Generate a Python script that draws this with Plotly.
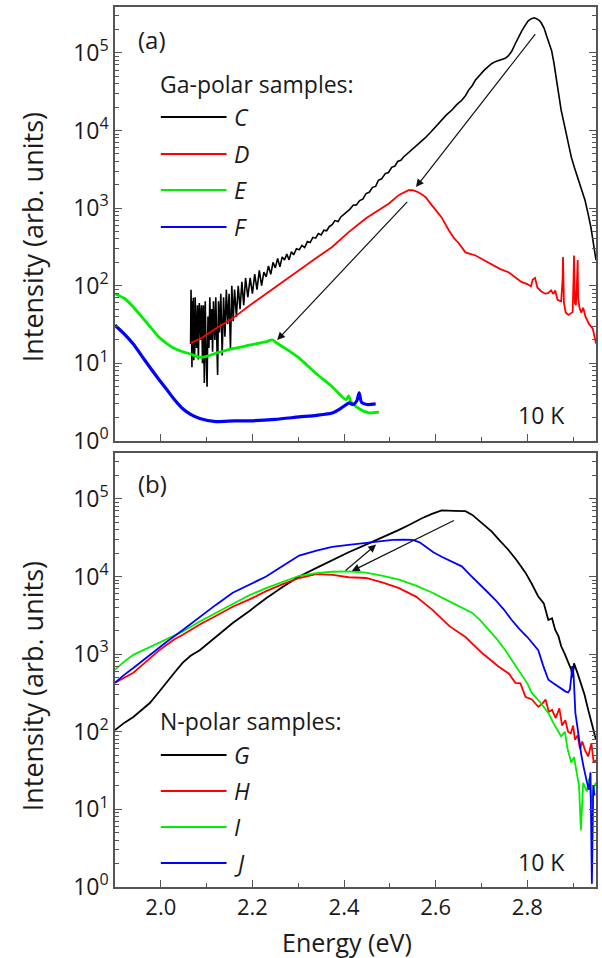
import plotly.graph_objects as go

# ---------------- data ----------------
# Panel (a): Ga-polar samples
C_x = [2.065, 2.066, 2.067, 2.068, 2.069, 2.070, 2.071, 2.072, 2.073, 2.074, 2.075, 2.077, 2.078, 2.080,
       2.082, 2.084, 2.085, 2.087, 2.089, 2.091, 2.093, 2.095, 2.097, 2.099, 2.101, 2.103, 2.105, 2.107,
       2.109, 2.111, 2.113, 2.115, 2.118, 2.120, 2.122, 2.124, 2.126, 2.128, 2.131, 2.134, 2.137, 2.140,
       2.143, 2.146, 2.149, 2.152, 2.155, 2.158, 2.161, 2.165, 2.169, 2.173, 2.177, 2.181, 2.185, 2.190,
       2.195, 2.200, 2.205, 2.210, 2.215, 2.220, 2.225, 2.230, 2.235, 2.240, 2.245, 2.250, 2.255, 2.260,
       2.265, 2.270, 2.275, 2.280, 2.285, 2.290, 2.296, 2.302, 2.308, 2.314, 2.320, 2.326, 2.332, 2.338,
       2.344, 2.350, 2.356, 2.362, 2.368, 2.374, 2.380, 2.387, 2.393, 2.400, 2.406, 2.413, 2.420, 2.427,
       2.434, 2.441, 2.448, 2.455, 2.462, 2.469, 2.475, 2.482, 2.490, 2.497, 2.504, 2.511, 2.517, 2.524,
       2.530, 2.538, 2.546, 2.555, 2.563, 2.577, 2.590, 2.602, 2.613, 2.624, 2.635, 2.646, 2.657, 2.665,
       2.672, 2.680, 2.687, 2.696, 2.705, 2.714, 2.722, 2.730, 2.737, 2.745, 2.752, 2.759, 2.766, 2.773,
       2.780, 2.788, 2.795, 2.802, 2.809, 2.815, 2.820, 2.826, 2.831, 2.837, 2.842, 2.848, 2.853, 2.858,
       2.864, 2.869, 2.874, 2.880, 2.885, 2.890, 2.896, 2.903, 2.910, 2.918, 2.926, 2.933, 2.939, 2.945,
       2.950]
C_y = [17.8, 89, 30, 8.9, 63, 20, 70, 11, 45, 12.6, 71, 25, 15.8, 56,
       11.2, 60, 50, 20, 56, 10, 56, 5.6, 63, 12.6, 5.0, 40, 15.8, 71,
       20, 50, 14.1, 63, 20, 71, 15.8, 7.1, 63, 25, 79, 12.6, 71, 22,
       89, 32, 79, 15.8, 100, 35, 89, 40, 100, 50, 112, 56, 126, 71,
       126, 79, 141, 89, 158, 100, 150, 130, 180, 140, 200, 170, 225, 175,
       235, 215, 255, 215, 275, 250, 300, 290, 330, 310, 370, 360, 420, 410,
       470, 450, 520, 510, 580, 610, 690, 670, 770, 830, 910, 970, 1090, 1100,
       1250, 1300, 1540, 1600, 1850, 1900, 2280, 2380, 2780, 2870, 3350, 3480, 3980, 4120,
       4550, 5000, 5600, 6200, 6700, 8000, 9600, 11500, 13400, 16000, 18200, 21500, 24500, 28000,
       33100, 38000, 44700, 52000, 58900, 66000, 72400, 77000, 79400, 82000, 85100, 92000, 104700, 128000,
       158500, 192000, 223900, 258000, 275400, 282000, 275400, 262000, 239900, 205000, 166000, 135000, 107200, 75000,
       44700, 27000, 18200, 12500, 8900, 6500, 4570, 3300, 2510, 1800, 1260, 830, 562, 330,
       214]

D_x = [2.065, 2.090, 2.120, 2.157, 2.190, 2.230, 2.265, 2.302, 2.340, 2.374, 2.410, 2.448, 2.475, 2.498,
       2.520, 2.533, 2.541, 2.550, 2.560, 2.570, 2.578, 2.591, 2.602, 2.613, 2.628, 2.640, 2.650, 2.665,
       2.687, 2.705, 2.722, 2.740, 2.760, 2.775, 2.787, 2.800, 2.808, 2.812, 2.817, 2.822, 2.830, 2.839,
       2.845, 2.852, 2.857, 2.861, 2.866, 2.874, 2.877, 2.878, 2.880, 2.884, 2.890, 2.895, 2.899, 2.901,
       2.902, 2.904, 2.906, 2.908, 2.910, 2.911, 2.914, 2.918, 2.922, 2.927, 2.935, 2.943, 2.950]
D_y = [18.2, 21.4, 28.2, 38, 53.7, 79.4, 112, 158, 229, 316, 490, 741, 933, 1148,
       1479, 1620, 1698, 1700, 1622, 1500, 1380, 1100, 900, 759, 525, 410, 355, 269,
       245, 215, 186, 165, 148, 128, 112, 105, 98, 120, 126, 95, 85, 79,
       80, 87, 78, 87, 66, 63, 120, 234, 60, 45, 42, 44, 46, 120,
       245, 60, 56, 90, 214, 70, 52, 45, 52, 40, 32, 28, 18]

E_x = [1.900, 1.920, 1.939, 1.958, 1.976, 1.995, 2.013, 2.030, 2.048, 2.065, 2.085, 2.100, 2.120, 2.157,
       2.190, 2.215, 2.230, 2.243, 2.255, 2.270, 2.302, 2.339, 2.374, 2.404, 2.410, 2.415, 2.433, 2.454,
       2.476]
E_y = [79, 69, 54, 40, 30, 22, 18, 15.5, 14.1, 13.2, 12, 12.3, 13.5, 15.5,
       17, 18.2, 19, 20, 18, 15.8, 11.7, 7.4, 5.0, 3.4, 3.8, 3.2, 2.6, 2.3,
       2.35]

F_x = [1.900, 1.920, 1.939, 1.958, 1.976, 1.995, 2.013, 2.030, 2.048, 2.065, 2.085, 2.120, 2.160, 2.193,
       2.250, 2.302, 2.340, 2.374, 2.393, 2.405, 2.411, 2.420, 2.428, 2.433, 2.438, 2.450, 2.469]
F_y = [31, 24, 18, 12.6, 8.9, 6.3, 4.6, 3.4, 2.6, 2.2, 1.95, 1.78, 1.82, 1.82,
       1.9, 2.04, 2.14, 2.29, 2.63, 2.95, 3.09, 2.95, 3.3, 4.17, 3.16, 2.95, 3.0]

# Panel (b): N-polar samples
G_x = [1.900, 1.920, 1.940, 1.958, 1.976, 1.995, 2.013, 2.030, 2.048, 2.065, 2.085, 2.120, 2.157, 2.195,
       2.230, 2.265, 2.302, 2.340, 2.374, 2.410, 2.448, 2.485, 2.520, 2.545, 2.570, 2.592, 2.613, 2.640,
       2.665, 2.680, 2.693, 2.708, 2.722, 2.740, 2.759, 2.778, 2.796, 2.810, 2.824, 2.836, 2.846, 2.854,
       2.861, 2.868, 2.874, 2.882, 2.890, 2.896, 2.899, 2.902, 2.910, 2.917, 2.925, 2.933, 2.941, 2.950]
G_y = [105, 130, 155, 190, 234, 320, 427, 580, 776, 950, 1122, 1660, 2512, 3650,
       5248, 7250, 10000, 12900, 16200, 20500, 25700, 32000, 39800, 47000, 56200, 64000, 70800, 70000,
       69200, 62000, 53700, 45500, 38000, 29000, 21900, 15800, 11200, 8000, 5500, 4500, 2750, 2900,
       2040, 1700, 1260, 1000, 776, 630, 500, 760, 560, 427, 300, 191, 130, 79]

H_x = [1.900, 1.920, 1.940, 1.958, 1.976, 1.995, 2.013, 2.030, 2.048, 2.085, 2.120, 2.157, 2.195, 2.230,
       2.265, 2.302, 2.339, 2.375, 2.410, 2.448, 2.485, 2.520, 2.557, 2.593, 2.630, 2.665, 2.702, 2.737,
       2.760, 2.774, 2.785, 2.796, 2.810, 2.824, 2.833, 2.840, 2.847, 2.854, 2.862, 2.870, 2.876, 2.883,
       2.889, 2.895, 2.900, 2.904, 2.910, 2.915, 2.920, 2.926, 2.933, 2.940, 2.945, 2.950]
H_y = [427, 500, 575, 710, 891, 1100, 1318, 1550, 1778, 2399, 3100, 4074, 5100, 6457,
       7900, 9550, 10700, 10500, 9770, 9550, 8300, 7080, 5500, 3715, 2290, 1660, 1023, 692,
       560, 427, 420, 282, 260, 209, 230, 260, 180, 191, 150, 200, 120, 141,
       100, 95, 120, 79, 90, 60, 75, 58, 48, 71, 40, 43]

I_x = [1.900, 1.920, 1.940, 1.958, 1.976, 1.995, 2.013, 2.048, 2.085, 2.120, 2.157, 2.195, 2.230, 2.265,
       2.302, 2.340, 2.374, 2.410, 2.448, 2.485, 2.520, 2.557, 2.593, 2.620, 2.644, 2.662, 2.680, 2.698,
       2.716, 2.734, 2.752, 2.770, 2.789, 2.800, 2.810, 2.828, 2.846, 2.860, 2.874, 2.882, 2.888, 2.893,
       2.896, 2.902, 2.908, 2.913, 2.917, 2.922, 2.930, 2.935, 2.940, 2.946, 2.950]
I_y = [631, 800, 977, 1100, 1230, 1380, 1549, 1950, 2630, 3400, 4467, 5800, 7080, 8500,
       10200, 11000, 11500, 11600, 11200, 10200, 9120, 7600, 6170, 5100, 4365, 3900, 3390, 2700,
       2040, 1550, 1122, 780, 513, 420, 316, 240, 174, 120, 87, 100, 60, 45,
       40, 47, 30, 20, 5.4, 22, 17, 25, 12, 20, 22]

J_x = [1.900, 1.920, 1.940, 1.958, 1.976, 1.995, 2.013, 2.048, 2.085, 2.120, 2.157, 2.195, 2.230, 2.265,
       2.302, 2.340, 2.374, 2.410, 2.448, 2.478, 2.506, 2.530, 2.550, 2.565, 2.578, 2.595, 2.614, 2.635,
       2.657, 2.675, 2.693, 2.712, 2.730, 2.748, 2.766, 2.783, 2.800, 2.812, 2.824, 2.835, 2.846, 2.857,
       2.868, 2.876, 2.883, 2.889, 2.893, 2.896, 2.898, 2.901, 2.905, 2.909, 2.913, 2.918, 2.923, 2.928,
       2.934, 2.938, 2.941, 2.944, 2.947]
J_y = [427, 540, 661, 800, 977, 1200, 1445, 2040, 3020, 4300, 6170, 7950, 10000, 13500,
       18600, 21500, 24000, 25500, 26900, 28000, 29500, 29800, 29500, 27500, 24000, 20500, 17800, 15500,
       13500, 10500, 8130, 6400, 5010, 3800, 2750, 2100, 1660, 1350, 1122, 700, 468, 420,
       380, 350, 331, 320, 347, 500, 700, 550, 174, 120, 79, 50, 35, 25,
       17.8, 30, 1.1, 20, 15]

y_tickvals = [1, 10, 100, 1000, 10000, 100000]
y_ticktext = ["10<sup>0</sup>", "10<sup>1</sup>", "10<sup>2</sup>", "10<sup>3</sup>",
              "10<sup>4</sup>", "10<sup>5</sup>"]
x_tickvals = [2.0, 2.2, 2.4, 2.6, 2.8]
x_ticktext = ["2.0", "2.2", "2.4", "2.6", "2.8"]
legend_a = ["C", "D", "E", "F"]
legend_b = ["G", "H", "I", "J"]

# ---------------- styling ----------------
FONT = "Open Sans"
TXT = "#1a1a1a"
colors = ["#000000", "#ff0000", "#00ee00", "#0000ff"]
FRAME = "#555555"

fig = go.Figure()
series_a = [(C_x, C_y, 1.6, "linear"), (D_x, D_y, 1.8, "linear"),
            (E_x, E_y, 2.8, "spline"), (F_x, F_y, 3.2, "spline")]
for (xs, ys, w, sh), col, nm in zip(series_a, colors, legend_a):
    fig.add_trace(go.Scatter(x=xs, y=ys, mode="lines", name=nm, showlegend=False,
                             line=dict(color=col, width=w, shape=sh, smoothing=0.6),
                             xaxis="x", yaxis="y"))
series_b = [G_x, G_y], [H_x, H_y], [I_x, I_y], [J_x, J_y]
for (xs, ys), col, nm in zip(series_b, colors, legend_b):
    fig.add_trace(go.Scatter(x=xs, y=ys, mode="lines", name=nm, showlegend=False,
                             line=dict(color=col, width=1.8), xaxis="x2", yaxis="y2"))

minor_vals = [k * 10 ** n for n in range(0, 6) for k in range(2, 10)]

def yaxis(domain, anchor):
    return dict(type="log", domain=domain, anchor=anchor, range=[0, 5.59],
                tickvals=y_tickvals, ticktext=y_ticktext, ticks="inside", ticklen=7,
                tickwidth=1.2, tickcolor=FRAME, showline=True, linecolor=FRAME, linewidth=1.5,
                mirror="ticks", showgrid=False, zeroline=False,
                tickfont=dict(family=FONT, size=23, color=TXT),
                minor=dict(tickvals=minor_vals, ticks="inside", ticklen=4, tickcolor=FRAME,
                           tickwidth=1, showgrid=False))

def xaxis(anchor, labels):
    return dict(domain=[0, 1], anchor=anchor, range=[1.9, 2.95], tickvals=x_tickvals,
                ticktext=x_ticktext, showticklabels=labels, ticks="inside", ticklen=7,
                tickwidth=1.2, tickcolor=FRAME, showline=True, linecolor=FRAME, linewidth=1.5,
                mirror=True, showgrid=False, zeroline=False,
                tickfont=dict(family=FONT, size=22, color=TXT),
                minor=dict(dtick=0.1, tick0=1.9, ticks="inside", ticklen=4, tickcolor=FRAME,
                           tickwidth=1, showgrid=False))

W, H = 602, 958
ML, MR, MT, MB = 115, 4, 7, 71
PW, PH = W - ML - MR, H - MT - MB

def px2x(px):
    return (px - ML) / PW

def py2y(py):
    return (H - MB - py) / PH

ya_dom = [py2y(441), 1.0]
yb_dom = [0.0, py2y(453)]

fig.update_layout(
    width=W, height=H, margin=dict(l=ML, r=MR, t=MT, b=MB),
    paper_bgcolor="white", plot_bgcolor="white",
    font=dict(family=FONT, size=23, color=TXT),
    xaxis=xaxis("y", False), yaxis=yaxis(ya_dom, "x"),
    xaxis2=xaxis("y2", True), yaxis2=yaxis(yb_dom, "x2"),
)

annotations = []
shapes = []

def text(px, py, s, size=23, xanchor="left", italic=False, angle=0):
    if italic:
        s = "<i>" + s + "</i>"
    annotations.append(dict(x=px2x(px), y=py2y(py), xref="paper", yref="paper", text=s,
                            showarrow=False, xanchor=xanchor, yanchor="middle", textangle=angle,
                            font=dict(family=FONT, size=size, color=TXT)))

# axis titles
text(32, 237, "Intensity (arb. units)", size=27, xanchor="center", angle=-90)
text(32, 686, "Intensity (arb. units)", size=27, xanchor="center", angle=-90)
text(348, 942, "Energy (eV)", size=25, xanchor="center")

# panel labels and temperature
text(136, 40, "(a)", size=24)
text(136, 483, "(b)", size=24)
text(518, 415, "10 K")
text(518, 862, "10 K")

# legends
text(158, 84, "Ga-polar samples:")
for i, (nm, col) in enumerate(zip(legend_a, colors)):
    py = [117, 154, 190, 227][i]
    shapes.append(dict(type="line", xref="paper", yref="paper", x0=px2x(161), x1=px2x(227),
                       y0=py2y(py), y1=py2y(py), line=dict(color=col, width=1.8)))
    text(232, py, nm, italic=True)
text(158, 721, "N-polar samples:")
for i, (nm, col) in enumerate(zip(legend_b, colors)):
    py = [755, 791, 827, 863][i]
    shapes.append(dict(type="line", xref="paper", yref="paper", x0=px2x(161), x1=px2x(227),
                       y0=py2y(py), y1=py2y(py), line=dict(color=col, width=1.8)))
    text(232, py, nm, italic=True)

# arrows (data coordinates, log10 for y)
arrows = [
    ("x", "y", 2.820, 5.26, 2.557, 3.27),
    ("x", "y", 2.541, 3.10, 2.254, 1.30),
    ("x2", "y2", 2.400, 4.06, 2.470, 4.41),
    ("x2", "y2", 2.643, 4.73, 2.417, 4.07),
]
for xr, yr, x0, y0, x1, y1 in arrows:
    annotations.append(dict(x=x1, y=y1, ax=x0, ay=y0, xref=xr, yref=yr, axref=xr, ayref=yr,
                            showarrow=True, arrowhead=2, arrowsize=1.3, arrowwidth=1.2,
                            arrowcolor="#111", text=""))

fig.update_layout(annotations=annotations, shapes=shapes)
fig.write_html("out.html")
